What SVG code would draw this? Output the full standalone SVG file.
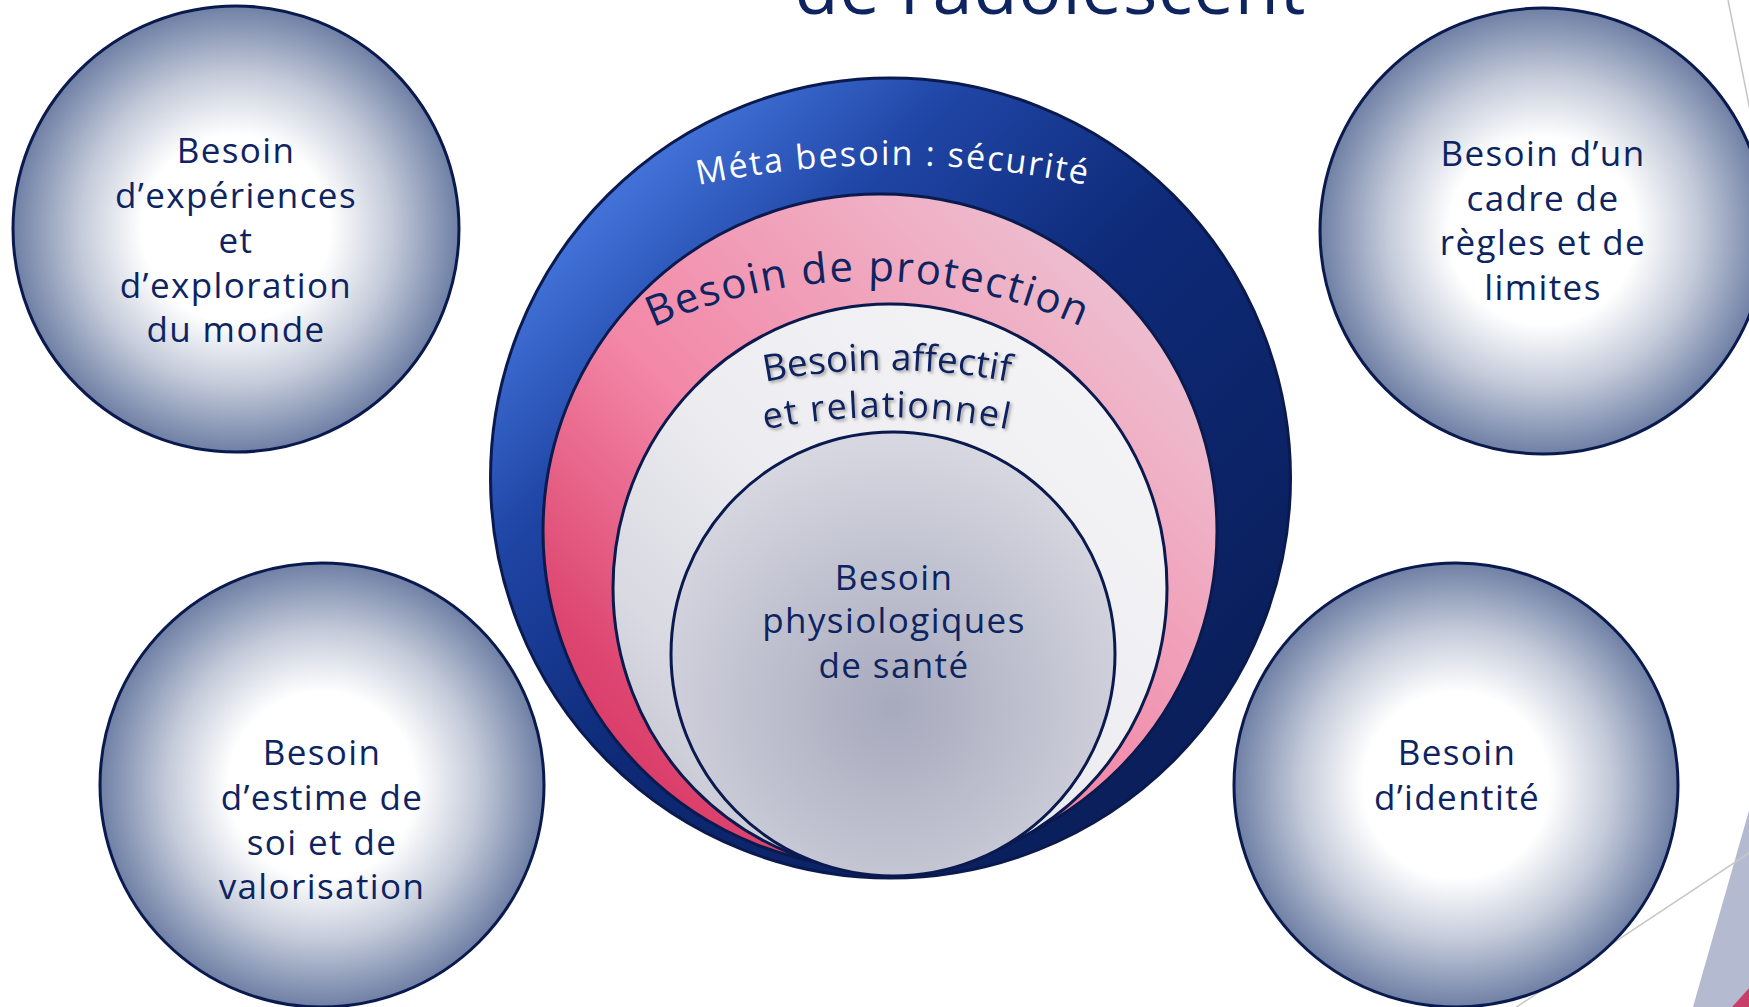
<svg xmlns="http://www.w3.org/2000/svg" width="1749" height="1007" viewBox="0 0 1749 1007">
  <style>
    .lbl { font-family: "Open Sans", "Noto Sans", "Liberation Sans", sans-serif; font-size: 35px; letter-spacing: 1.4px; fill: #0d2461; text-anchor: middle; }
    .bubble { fill: url(#bubbleGrad); stroke: #0a1a4e; stroke-width: 3; }
    .ring { stroke: #0a1a4e; stroke-width: 3; }
    .arc { font-family: "Open Sans", "Noto Sans", "Liberation Sans", sans-serif; text-anchor: middle; }
  </style>
  <defs>
    <radialGradient id="bubbleGrad" cx="0.5" cy="0.5" r="0.5">
      <stop offset="0" stop-color="#ffffff"/>
      <stop offset="0.42" stop-color="#ffffff"/>
      <stop offset="0.7" stop-color="#c3cad9"/>
      <stop offset="1" stop-color="#6f80a5"/>
    </radialGradient>
    <linearGradient id="outerGrad" x1="0" y1="0" x2="1" y2="1">
      <stop offset="0" stop-color="#5a8cf0"/>
      <stop offset="0.15" stop-color="#4272d8"/>
      <stop offset="0.3" stop-color="#1f45a5"/>
      <stop offset="0.5" stop-color="#0e2a78"/>
      <stop offset="1" stop-color="#081a4e"/>
    </linearGradient>
    <linearGradient id="pinkGrad" x1="0" y1="1" x2="1" y2="0">
      <stop offset="0" stop-color="#d02a58"/>
      <stop offset="0.2" stop-color="#dd4670"/>
      <stop offset="0.45" stop-color="#f387a7"/>
      <stop offset="0.75" stop-color="#efb0c5"/>
      <stop offset="1" stop-color="#eacfdc"/>
    </linearGradient>
    <linearGradient id="whiteGrad" x1="1" y1="0" x2="0" y2="1">
      <stop offset="0" stop-color="#f6f6f8"/>
      <stop offset="0.5" stop-color="#ededf1"/>
      <stop offset="0.75" stop-color="#d8d9e1"/>
      <stop offset="1" stop-color="#b8b9c8"/>
    </linearGradient>
    <radialGradient id="innerGrad" cx="0.5" cy="0.62" r="0.6">
      <stop offset="0" stop-color="#a7a9bd"/>
      <stop offset="1" stop-color="#d6d7e0"/>
    </radialGradient>
    <filter id="shadow" x="-10%" y="-30%" width="120%" height="160%">
      <feDropShadow dx="2" dy="2" stdDeviation="1.5" flood-color="#666" flood-opacity="0.55"/>
    </filter>
    <path id="arcMeta" d="M 600 211.3 A 951 951 0 0 1 1186 211.3"/>
    <path id="arcProt" d="M 560 382 A 520 520 0 0 1 1176 382"/>
    <path id="arcAff1" d="M 700 398 A 640 640 0 0 1 1074 398"/>
    <path id="arcAff2" d="M 700 447 A 600 600 0 0 1 1074 447"/>
  </defs>

  <g id="decorations">
    <line x1="1728" y1="0" x2="1752" y2="120" stroke="#c4c4c4" stroke-width="1.5"/>
    <polygon points="1693,1007 1752,800 1752,1007" fill="#b4bbd0"/>
    <polygon points="1732,1007 1752,985 1752,1007" fill="#c8406a"/>
    <line x1="1515" y1="1008" x2="1752" y2="851" stroke="#c8c8c8" stroke-width="1.5"/>
  </g>

  <g id="title">
    <text x="1050" y="14" font-family="Open Sans, Noto Sans, sans-serif" font-size="72" font-weight="500" fill="#0d2461" text-anchor="middle" textLength="511">de l’adolescent</text>
  </g>

  <g id="node-experiences">
    <circle class="bubble" cx="236" cy="229" r="223"/>
    <text class="lbl"><tspan x="236" y="163">Besoin</tspan><tspan x="236" y="208">d’expériences</tspan><tspan x="236" y="253">et</tspan><tspan x="236" y="298">d’exploration</tspan><tspan x="236" y="342">du monde</tspan></text>
  </g>

  <g id="node-cadre">
    <circle class="bubble" cx="1543" cy="231" r="223"/>
    <text class="lbl"><tspan x="1543" y="166">Besoin d’un</tspan><tspan x="1543" y="211">cadre de</tspan><tspan x="1543" y="255">règles et de</tspan><tspan x="1543" y="300">limites</tspan></text>
  </g>

  <g id="node-estime">
    <circle class="bubble" cx="322" cy="785" r="222"/>
    <text class="lbl"><tspan x="322" y="765">Besoin</tspan><tspan x="322" y="810">d’estime de</tspan><tspan x="322" y="855">soi et de</tspan><tspan x="322" y="899">valorisation</tspan></text>
  </g>

  <g id="node-identite">
    <circle class="bubble" cx="1456" cy="785" r="222"/>
    <text class="lbl"><tspan x="1457" y="765">Besoin</tspan><tspan x="1457" y="810">d’identité</tspan></text>
  </g>

  <g id="node-securite">
    <circle class="ring" cx="890.5" cy="478" r="400" fill="url(#outerGrad)"/>
    <text class="arc" font-size="34" letter-spacing="2" fill="#ffffff"><textPath href="#arcMeta" startOffset="50%">Méta besoin : sécurité</textPath></text>
  </g>

  <g id="node-protection">
    <circle class="ring" cx="880" cy="531" r="337" fill="url(#pinkGrad)"/>
    <text class="arc" font-size="42" letter-spacing="1.8" fill="#0d2461"><textPath href="#arcProt" startOffset="50%">Besoin de protection</textPath></text>
  </g>

  <g id="node-affectif">
    <ellipse class="ring" cx="890" cy="588" rx="277" ry="284" fill="url(#whiteGrad)"/>
    <g filter="url(#shadow)">
      <text class="arc" font-size="37" letter-spacing="0" fill="#0d2461"><textPath href="#arcAff1" startOffset="50%">Besoin affectif</textPath></text>
      <text class="arc" font-size="36" letter-spacing="1.6" fill="#0d2461"><textPath href="#arcAff2" startOffset="50%">et relationnel</textPath></text>
    </g>
  </g>

  <g id="node-physio">
    <circle class="ring" cx="893" cy="654" r="222" fill="url(#innerGrad)"/>
    <text class="lbl"><tspan x="894" y="590">Besoin</tspan><tspan x="894" y="633">physiologiques</tspan><tspan x="894" y="678">de santé</tspan></text>
  </g>
</svg>
